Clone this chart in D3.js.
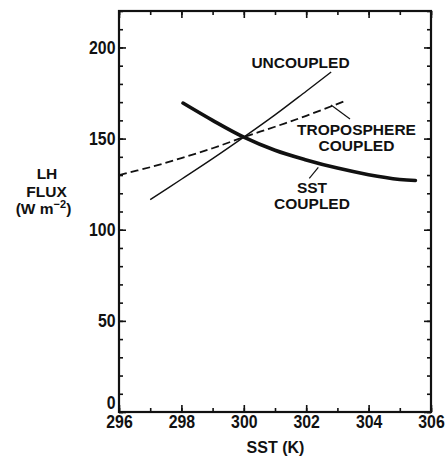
<!DOCTYPE html>
<html>
<head>
<meta charset="utf-8">
<script src="https://cdn.jsdelivr.net/npm/d3@7"></script>
<style>
  html, body { margin: 0; padding: 0; background: #fff; }
  svg { display: block; }
  text { font-family: "Liberation Sans", Arial, Helvetica, sans-serif; font-weight: bold; fill: #111; }
</style>
</head>
<body>
<svg id="chart" width="445" height="458"></svg>
<script>
// Latent-heat flux versus sea-surface temperature for three coupling assumptions
const uncoupledSST   = [297, 298, 299, 300, 301, 302, 302.8];
const uncoupledLH    = [116.5, 127.7, 139, 150.8, 163, 176, 186.5];

const troposphereSST = [296, 297, 298, 299, 300, 301, 302, 303.3];
const troposphereLH  = [130, 134.3, 139.3, 144.7, 150.8, 156.5, 162.5, 171];

const sstCoupledSST  = [298.05, 299, 300, 301, 302, 303, 304, 305, 305.5];
const sstCoupledLH   = [169.5, 160, 150.8, 143.6, 138.3, 133.8, 130.2, 127.6, 127];

const xMajorTicks = [296, 298, 300, 302, 304, 306];
const yMajorTicks = [0, 50, 100, 150, 200];

const svg = d3.select("#chart");
const x = d3.scaleLinear().domain([296, 306]).range([119, 431]);
const y = d3.scaleLinear().domain([0, 220]).range([412, 11]);

const xMinor = d3.range(296, 306.01, 1);
const yMinor = d3.range(0, 220.01, 10);

function styleAxis(g) {
  g.select(".domain").remove();
  g.selectAll(".tick line").attr("stroke", "#111").attr("stroke-width", 1.6);
}
function styleLabels(g) {
  styleAxis(g);
  g.selectAll(".tick text")
    .attr("font-size", 18)
    .attr("fill", "#111")
    .attr("font-family", "Liberation Sans, Arial, sans-serif")
    .attr("font-weight", "bold")
    .attr("transform", "scale(0.88,1)");
}

// inward-pointing minor ticks on all four sides
svg.append("g").attr("transform", `translate(0,${y(0)})`)
  .call(d3.axisBottom(x).tickValues(xMinor).tickSize(-4).tickFormat(""))
  .call(styleAxis);
svg.append("g").attr("transform", `translate(0,${y(220)})`)
  .call(d3.axisTop(x).tickValues(xMinor).tickSize(-4).tickFormat(""))
  .call(styleAxis);
svg.append("g").attr("transform", `translate(${x(296)},0)`)
  .call(d3.axisLeft(y).tickValues(yMinor).tickSize(-4).tickFormat(""))
  .call(styleAxis);
svg.append("g").attr("transform", `translate(${x(306)},0)`)
  .call(d3.axisRight(y).tickValues(yMinor).tickSize(-4).tickFormat(""))
  .call(styleAxis);

// major ticks, labelled on bottom and left
svg.append("g").attr("transform", `translate(0,${y(0)})`)
  .call(d3.axisBottom(x).tickValues(xMajorTicks).tickSize(-7).tickPadding(3).tickFormat(d3.format("d")))
  .call(styleLabels);
svg.append("g").attr("transform", `translate(0,${y(220)})`)
  .call(d3.axisTop(x).tickValues(xMajorTicks).tickSize(-7).tickFormat(""))
  .call(styleAxis);
const yAxisG = svg.append("g").attr("transform", `translate(${x(296)},0)`)
  .call(d3.axisLeft(y).tickValues(yMajorTicks).tickSize(-7).tickPadding(4).tickFormat(d3.format("d")))
  .call(styleLabels);
// lift the zero label clear of the x-axis labels
yAxisG.selectAll(".tick text").filter(d => d === 0).attr("dy", "-0.22em");
svg.append("g").attr("transform", `translate(${x(306)},0)`)
  .call(d3.axisRight(y).tickValues(yMajorTicks).tickSize(-7).tickFormat(""))
  .call(styleAxis);

// plot frame
svg.append("rect")
  .attr("x", x(296)).attr("y", y(220))
  .attr("width", x(306) - x(296)).attr("height", y(0) - y(220))
  .attr("fill", "none").attr("stroke", "#111").attr("stroke-width", 2.2);

// curves
const line = d3.line().x(d => x(d[0])).y(d => y(d[1])).curve(d3.curveCatmullRom);
const zip = (a, b) => a.map((v, i) => [v, b[i]]);

svg.append("path").datum(zip(uncoupledSST, uncoupledLH))
  .attr("d", line).attr("fill", "none").attr("stroke", "#111").attr("stroke-width", 1.4);
svg.append("path").datum(zip(troposphereSST, troposphereLH))
  .attr("d", line).attr("fill", "none").attr("stroke", "#111").attr("stroke-width", 1.8)
  .attr("stroke-dasharray", "8,4");
svg.append("path").datum(zip(sstCoupledSST, sstCoupledLH))
  .attr("d", line).attr("fill", "none").attr("stroke", "#111").attr("stroke-width", 3.6)
  .attr("stroke-linecap", "round");

// curve labels and leader lines
function label(lines, cx, baseline0, step) {
  const t = svg.append("text").attr("text-anchor", "middle").attr("font-size", 15.5);
  lines.forEach((s, i) => t.append("tspan").attr("x", cx).attr("y", baseline0 + i * step).text(s));
}
label(["UNCOUPLED"], 300.5, 67.5, 0);
label(["TROPOSPHERE", "COUPLED"], 356.5, 134.5, 16.8);
label(["SST", "COUPLED"], 312, 192.5, 16.8);

svg.append("line").attr("x1", 331).attr("y1", 105).attr("x2", 350).attr("y2", 119)
  .attr("stroke", "#111").attr("stroke-width", 1.2);
svg.append("line").attr("x1", 318.3).attr("y1", 167.3).attr("x2", 309.3).attr("y2", 178.3)
  .attr("stroke", "#111").attr("stroke-width", 1.2);

// axis titles
const yTitle = svg.append("text").attr("text-anchor", "middle").attr("font-size", 15.5);
yTitle.append("tspan").attr("x", 47).attr("y", 178.5).text("LH");
yTitle.append("tspan").attr("x", 46.5).attr("y", 196.5).text("FLUX");
yTitle.append("tspan").attr("x", 43.5).attr("y", 214).text("(W m");
yTitle.append("tspan").attr("font-size", 11).attr("dy", -6).text("\u22122");
yTitle.append("tspan").attr("dy", 6).text(")");

svg.append("text").attr("text-anchor", "middle").attr("font-size", 16)
  .attr("x", 275.5).attr("y", 453).text("SST (K)");
</script>
</body>
</html>
